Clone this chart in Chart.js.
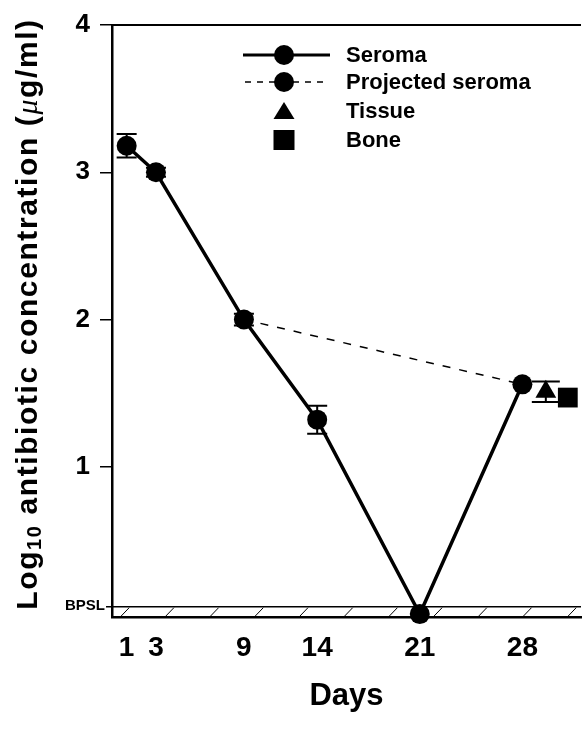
<!DOCTYPE html>
<html>
<head>
<meta charset="utf-8">
<script src="https://cdn.jsdelivr.net/npm/chart.js@4/dist/chart.umd.min.js"></script>
<style>
html, body { margin: 0; padding: 0; background: #fff; overflow: hidden; }
#wrap { width: 582px; height: 730px; position: relative; }
</style>
</head>
<body>
<div id="wrap"><canvas id="chart"></canvas></div>
<script>
// values
const days = [1, 3, 9, 14, 21, 28];
const seroma = [3.18, 3.0, 2.0, 1.32, 0, 1.56];
const seromaErr = [0.08, 0.03, 0.04, 0.095, 0, 0];
const projectedDays = [9, 28];
const projected = [2.0, 1.56];
const tissueDays = [29.6];
const tissue = [1.51];
const tissueErr = [0.07];
const boneDays = [31.1];
const bone = [1.47];
const xTicks = [1, 3, 9, 14, 21, 28];
const yTicks = [1, 2, 3, 4];
const BPSL = 0.05;

const FONT = '"Liberation Sans", Arial, sans-serif';

function pts(xs, ys) {
    return xs.map((x, i) => ({ x: x, y: ys[i] }));
}

// hatched band under the BPSL line, its label, plus the top frame
const bandPlugin = {
    id: 'band',
    beforeDatasetsDraw(chart) {
        const c = chart.ctx;
        const a = chart.chartArea;
        const xs = chart.scales.x;
        const y1 = chart.scales.y.getPixelForValue(BPSL);
        const y2 = a.bottom;
        c.save();
        c.strokeStyle = '#000';
        c.fillStyle = '#000';
        c.lineWidth = 1.5;
        c.beginPath();
        c.moveTo(a.left - 6, y1);
        c.lineTo(a.right, y1);
        c.stroke();
        c.lineWidth = 1;
        for (let d = 0.9; d < xs.max; d += 3.05) {
            const x = xs.getPixelForValue(d);
            c.beginPath();
            c.moveTo(x - 4, y2 - 1);
            c.lineTo(x + 4, y1 + 1);
            c.stroke();
        }
        c.lineWidth = 2;
        c.beginPath();
        c.moveTo(a.left, a.top);
        c.lineTo(a.right, a.top);
        c.stroke();
        c.font = 'bold 15px ' + FONT;
        c.textAlign = 'right';
        c.textBaseline = 'middle';
        c.fillText('BPSL', a.left - 7, y1 - 1);
        c.restore();
    }
};

// vertical error bars with caps
const errorPlugin = {
    id: 'errors',
    beforeDatasetsDraw(chart) {
        const c = chart.ctx;
        const ys = chart.scales.y;
        c.save();
        c.strokeStyle = '#000';
        c.lineWidth = 2;
        chart.data.datasets.forEach((ds, i) => {
            if (!ds.errors) return;
            const meta = chart.getDatasetMeta(i);
            ds.data.forEach((p, j) => {
                const e = ds.errors[j];
                if (!e) return;
                const x = meta.data[j].x;
                const top = ys.getPixelForValue(p.y + e);
                const bot = ys.getPixelForValue(p.y - e);
                const w = ds.capWidth || 10;
                c.beginPath();
                c.moveTo(x, top); c.lineTo(x, bot);
                c.moveTo(x - w, top); c.lineTo(x + w, top);
                c.moveTo(x - w, bot); c.lineTo(x + w, bot);
                c.stroke();
            });
        });
        c.restore();
    }
};

// legend drawn the way the figure shows it
const legendPlugin = {
    id: 'figLegend',
    afterDraw(chart) {
        const c = chart.ctx;
        const sx = 284, tx = 346;
        const rows = [55, 82, 111, 140];
        c.save();
        c.fillStyle = '#000';
        c.strokeStyle = '#000';
        // Seroma
        c.lineWidth = 3;
        c.beginPath(); c.moveTo(243, rows[0]); c.lineTo(330, rows[0]); c.stroke();
        c.beginPath(); c.arc(sx, rows[0], 10, 0, Math.PI * 2); c.fill();
        // Projected seroma
        c.lineWidth = 1.5;
        c.setLineDash([6, 6]);
        c.beginPath(); c.moveTo(245, rows[1]); c.lineTo(325, rows[1]); c.stroke();
        c.setLineDash([]);
        c.beginPath(); c.arc(sx, rows[1], 10, 0, Math.PI * 2); c.fill();
        // Tissue
        c.beginPath();
        c.moveTo(sx, rows[2] - 9);
        c.lineTo(sx + 10.5, rows[2] + 8);
        c.lineTo(sx - 10.5, rows[2] + 8);
        c.closePath(); c.fill();
        // Bone
        c.fillRect(sx - 10.5, rows[3] - 10, 21, 20);

        c.font = 'bold 22px ' + FONT;
        c.textBaseline = 'middle';
        c.textAlign = 'left';
        const names = ['Seroma', 'Projected seroma', 'Tissue', 'Bone'];
        names.forEach((n, i) => c.fillText(n, tx, rows[i] + 1));
        c.restore();
    }
};

// rotated y title with subscript and italic mu
const yTitlePlugin = {
    id: 'yTitle',
    afterDraw(chart) {
        const c = chart.ctx;
        const big = 'bold 30px ' + FONT;
        const parts = [
            { t: 'Log', f: big, dy: 0 },
            { t: '10', f: 'bold 20px ' + FONT, dy: 4 },
            { t: ' antibiotic concentration (', f: big, dy: 0 },
            { t: 'μ', f: 'italic 30px "Liberation Serif", serif', dy: 0 },
            { t: 'g/ml)', f: big, dy: 0 }
        ];
        c.save();
        c.fillStyle = '#000';
        c.textBaseline = 'alphabetic';
        c.textAlign = 'left';
        c.letterSpacing = '1.6px';
        let total = 0;
        parts.forEach(p => { c.font = p.f; p.w = c.measureText(p.t).width; total += p.w; });
        c.translate(26, 314);
        c.rotate(-Math.PI / 2);
        let x = -total / 2;
        parts.forEach(p => {
            c.font = p.f;
            c.fillText(p.t, x, 11 + p.dy);
            x += p.w;
        });
        c.restore();
    }
};

const ctx = document.getElementById('chart').getContext('2d');
new Chart(ctx, {
    type: 'line',
    data: {
        datasets: [{
            label: 'Seroma',
            data: pts(days, seroma),
            errors: seromaErr,
            capWidth: 10,
            borderColor: '#000',
            borderWidth: 3.5,
            pointRadius: 10,
            pointBackgroundColor: '#000',
            pointBorderWidth: 0,
            tension: 0,
            clip: false
        }, {
            label: 'Projected seroma',
            data: pts(projectedDays, projected),
            borderColor: '#000',
            borderWidth: 1.5,
            borderDash: [8, 9],
            pointRadius: 0,
            clip: false
        }, {
            label: 'Tissue',
            data: pts(tissueDays, tissue),
            errors: tissueErr,
            capWidth: 14,
            showLine: false,
            pointStyle: 'triangle',
            pointRadius: 12,
            pointBackgroundColor: '#000',
            pointBorderWidth: 0,
            clip: false
        }, {
            label: 'Bone',
            data: pts(boneDays, bone),
            showLine: false,
            pointStyle: 'rect',
            pointRadius: 14,
            pointBackgroundColor: '#000',
            pointBorderWidth: 0,
            clip: false
        }]
    },
    options: {
        responsive: true,
        maintainAspectRatio: false,
        animation: false,
        events: [],
        layout: { autoPadding: false, padding: { left: 0, right: 1, top: 25, bottom: 0 } },
        plugins: {
            legend: { display: false },
            tooltip: { enabled: false }
        },
        scales: {
            x: {
                type: 'linear',
                min: 0,
                max: 32,
                afterBuildTicks: s => { s.ticks = xTicks.map(v => ({ value: v })); },
                afterFit: s => { s.height = 113; s.paddingLeft = 0; s.paddingRight = 0; },
                grid: { display: false },
                border: { display: true, color: '#000', width: 2.5 },
                ticks: {
                    color: '#000',
                    padding: 6,
                    maxRotation: 0,
                    autoSkip: false,
                    font: { family: FONT, size: 28, weight: 'bold' }
                },
                title: {
                    display: true,
                    text: 'Days',
                    color: '#000',
                    font: { family: FONT, size: 31, weight: 'bold' },
                    padding: { top: 0, bottom: 15 }
                }
            },
            y: {
                min: -0.02,
                max: 4,
                afterBuildTicks: s => { s.ticks = yTicks.map(v => ({ value: v })); },
                afterFit: s => { s.width = 112; s.paddingTop = 0; s.paddingBottom = 0; },
                grid: {
                    drawOnChartArea: false,
                    drawTicks: true,
                    tickLength: 12,
                    color: '#000',
                    lineWidth: 1.5
                },
                border: { display: true, color: '#000', width: 2.5 },
                ticks: {
                    color: '#000',
                    padding: 10,
                    autoSkip: false,
                    font: { family: FONT, size: 26, weight: 'bold' }
                }
            }
        }
    },
    plugins: [bandPlugin, errorPlugin, legendPlugin, yTitlePlugin]
});
</script>
</body>
</html>
